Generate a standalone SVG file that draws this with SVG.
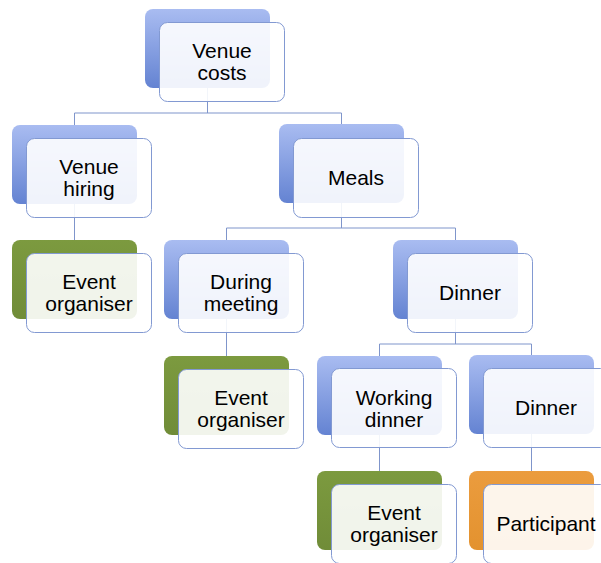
<svg xmlns="http://www.w3.org/2000/svg" width="601" height="563" viewBox="0 0 601 563">
<defs>
<linearGradient id="gb" x1="0" y1="0" x2="0" y2="1">
<stop offset="0" stop-color="#a9bcf1"/>
<stop offset="1" stop-color="#6483d2"/>
</linearGradient>
<linearGradient id="gg" x1="0" y1="0" x2="0" y2="1">
<stop offset="0" stop-color="#7c9a3f"/>
<stop offset="1" stop-color="#708c38"/>
</linearGradient>
<linearGradient id="go" x1="0" y1="0" x2="0" y2="1">
<stop offset="0" stop-color="#eb9c3e"/>
<stop offset="1" stop-color="#e3922f"/>
</linearGradient>
</defs>
<style>
.back{stroke:none}
.b{fill:url(#gb)}
.g{fill:url(#gg)}
.o{fill:url(#go)}
.front{fill:#ffffff;fill-opacity:0.9;stroke:#8299d2;stroke-width:1}
.t{font-family:"Liberation Sans",Arial,sans-serif;font-size:21px;fill:#000;text-anchor:middle}
.c{fill:none;stroke:#7f95cb;stroke-width:1}
</style>
<rect width="601" height="563" fill="#ffffff"/>
<g id="connectors">
<path class="c" d="M207.5 88V113M74.5 113H341.5M74.5 113V125M341.5 113V124"/>
<path class="c" d="M74.5 204V240"/>
<path class="c" d="M341.5 203V228M226.5 228H455.5M226.5 228V240M455.5 228V240"/>
<path class="c" d="M226.5 319V356"/>
<path class="c" d="M455.5 319V344M379.5 344H531.5M379.5 344V356M531.5 344V355"/>
<path class="c" d="M379.5 435V471"/>
<path class="c" d="M531.5 434V471"/>
</g>
<g id="venue-costs">
<rect class="back b" x="145" y="9" width="125" height="79" rx="8"/>
<rect class="front" x="159.5" y="22.5" width="125" height="79" rx="8"/>
<text class="t" x="222" y="58">Venue</text>
<text class="t" x="222" y="80">costs</text>
</g>
<g id="venue-hiring">
<rect class="back b" x="12" y="125" width="125" height="79" rx="8"/>
<rect class="front" x="26.5" y="138.5" width="125" height="79" rx="8"/>
<text class="t" x="89" y="174">Venue</text>
<text class="t" x="89" y="196">hiring</text>
</g>
<g id="meals">
<rect class="back b" x="279" y="124" width="125" height="79" rx="8"/>
<rect class="front" x="293.5" y="138.5" width="125" height="79" rx="8"/>
<text class="t" x="356" y="185">Meals</text>
</g>
<g id="event-organiser-1">
<rect class="back g" x="12" y="240" width="125" height="79" rx="8"/>
<rect class="front" x="26.5" y="253.5" width="125" height="79" rx="8"/>
<text class="t" x="89" y="289">Event</text>
<text class="t" x="89" y="311">organiser</text>
</g>
<g id="during-meeting">
<rect class="back b" x="164" y="240" width="125" height="79" rx="8"/>
<rect class="front" x="178.5" y="253.5" width="125" height="79" rx="8"/>
<text class="t" x="241" y="289">During</text>
<text class="t" x="241" y="311">meeting</text>
</g>
<g id="dinner">
<rect class="back b" x="393" y="240" width="125" height="79" rx="8"/>
<rect class="front" x="407.5" y="253.5" width="125" height="79" rx="8"/>
<text class="t" x="470" y="300">Dinner</text>
</g>
<g id="event-organiser-2">
<rect class="back g" x="164" y="356" width="125" height="79" rx="8"/>
<rect class="front" x="178.5" y="369.5" width="125" height="79" rx="8"/>
<text class="t" x="241" y="405">Event</text>
<text class="t" x="241" y="427">organiser</text>
</g>
<g id="working-dinner">
<rect class="back b" x="317" y="356" width="125" height="79" rx="8"/>
<rect class="front" x="331.5" y="368.5" width="125" height="79" rx="8"/>
<text class="t" x="394" y="405">Working</text>
<text class="t" x="394" y="427">dinner</text>
</g>
<g id="dinner-2">
<rect class="back b" x="469" y="355" width="125" height="79" rx="8"/>
<rect class="front" x="483.5" y="368.5" width="125" height="79" rx="8"/>
<text class="t" x="546" y="415">Dinner</text>
</g>
<g id="event-organiser-3">
<rect class="back g" x="317" y="471" width="125" height="79" rx="8"/>
<rect class="front" x="331.5" y="484.5" width="125" height="79" rx="8"/>
<text class="t" x="394" y="520">Event</text>
<text class="t" x="394" y="542">organiser</text>
</g>
<g id="participant">
<rect class="back o" x="469" y="471" width="125" height="79" rx="8"/>
<rect class="front" x="483.5" y="484.5" width="125" height="79" rx="8"/>
<text class="t" x="546" y="531">Participant</text>
</g>
</svg>
